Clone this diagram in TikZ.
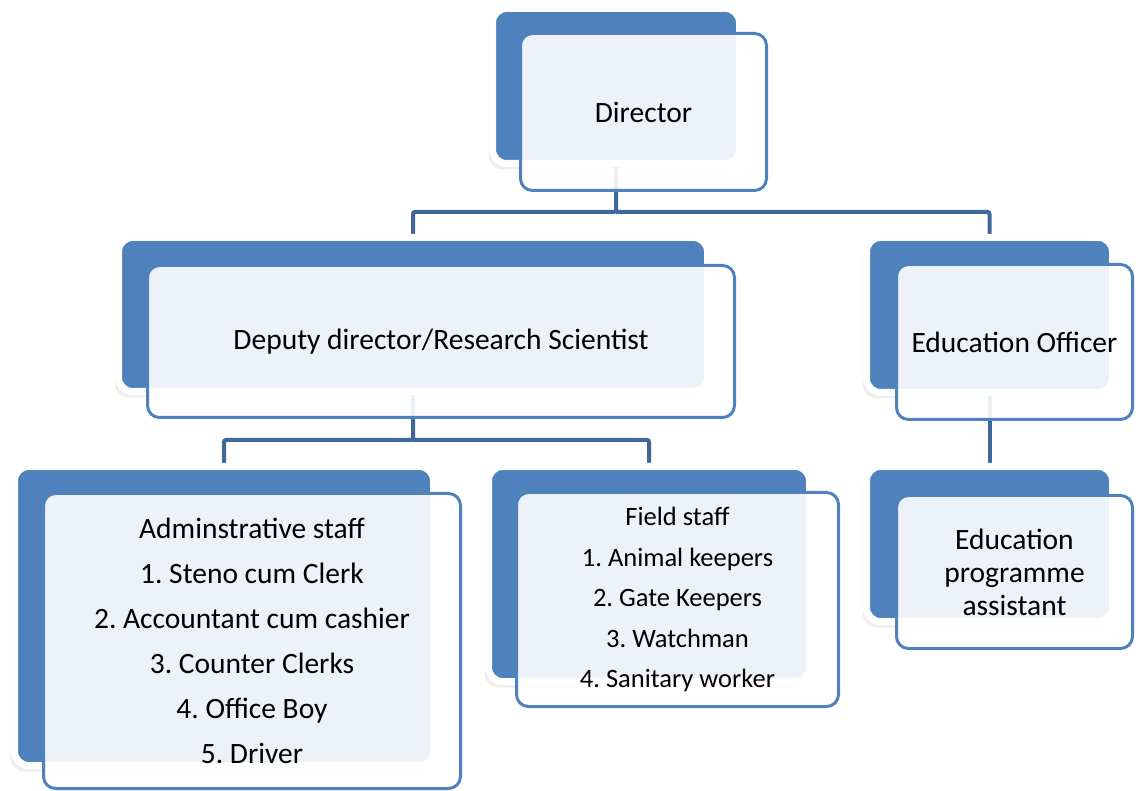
\documentclass[tikz,border=0pt]{standalone}
\usepackage{fontspec}
\setmainfont{Carlito}
\usetikzlibrary{shadows}
\definecolor{accent}{HTML}{4F81BD}
\definecolor{linkc}{HTML}{3D6899}
\pgfdeclarelayer{bg}
\pgfsetlayers{bg,main}
\frenchspacing
\tikzset{
 backbox/.style={rectangle, rounded corners=14pt, fill=accent, draw=white, line width=7pt, inner sep=0pt,
   drop shadow={shadow xshift=-4pt, shadow yshift=-6pt, opacity=0.13}},
 frontbox/.style={rectangle, rounded corners=12pt, fill=white, fill opacity=0.9, text opacity=1,
   draw=accent, line width=3pt, inner sep=0pt, align=center, font=\fontsize{29.5}{35}\selectfont},
 conn/.style={draw=linkc, line width=4pt, rounded corners=2pt},
}
\begin{document}
\begin{tikzpicture}[x=1pt,y=-1pt]
\useasboundingbox (0,0) rectangle (1136,791);

% Director
\node[backbox, minimum width=247pt, minimum height=155pt] (dirB) at (616,86) {};
\node[frontbox, minimum width=246pt, minimum height=157pt] (dir) at (643.5,112) {Director};

% Deputy director
\node[backbox, minimum width=589pt, minimum height=154pt] (depB) at (413,314.5) {};
\node[frontbox, minimum width=587pt, minimum height=152pt] (dep) at (441,341.5) {Deputy director/Research Scientist};

% Education Officer
\node[backbox, minimum width=246pt, minimum height=155pt] (edoB) at (989.5,315) {};
\node[frontbox, minimum width=236pt, minimum height=155pt] (edo) at (1014.5,342) {Education Officer};

% Education programme assistant
\node[backbox, minimum width=246pt, minimum height=155pt] (eapB) at (989.5,544) {};
\node[frontbox, minimum width=236pt, minimum height=153pt, font=\fontsize{29.5}{33}\selectfont] (eap) at (1014.5,572) {Education\\programme\\assistant};

% Administrative staff
\node[backbox, minimum width=419pt, minimum height=299pt] (admB) at (224,616) {};
\node[frontbox, minimum width=417pt, minimum height=295pt, font=\fontsize{29.5}{45}\selectfont] (adm) at (252,641)
  {Adminstrative staff\\1. Steno cum Clerk\\2. Accountant cum cashier\\3. Counter Clerks\\4. Office Boy\\5. Driver};

% Field staff
\node[backbox, minimum width=321pt, minimum height=215pt] (fldB) at (649,574) {};
\node[frontbox, minimum width=322pt, minimum height=214pt, font=\fontsize{26.5}{40.5}\selectfont] (fld) at (677.5,599.5)
  {Field staff\\1. Animal keepers\\2. Gate Keepers\\3. Watchman\\4. Sanitary worker};

\begin{pgfonlayer}{bg}
\fill[white] (0,0) rectangle (1136,791);
\coordinate (j1) at (dirB.south |- 0,212);
\coordinate (j2) at (depB.south |- 0,440);
\draw[conn] (dirB.south) -- (j1) -| (depB.north);
\draw[conn] (j1) -| (edoB.north);
\draw[conn] (depB.south) -- (j2) -| (admB.north);
\draw[conn] (j2) -| (fldB.north);
\draw[conn] (edoB.south) -- (eapB.north);
\end{pgfonlayer}
\end{tikzpicture}
\end{document}
